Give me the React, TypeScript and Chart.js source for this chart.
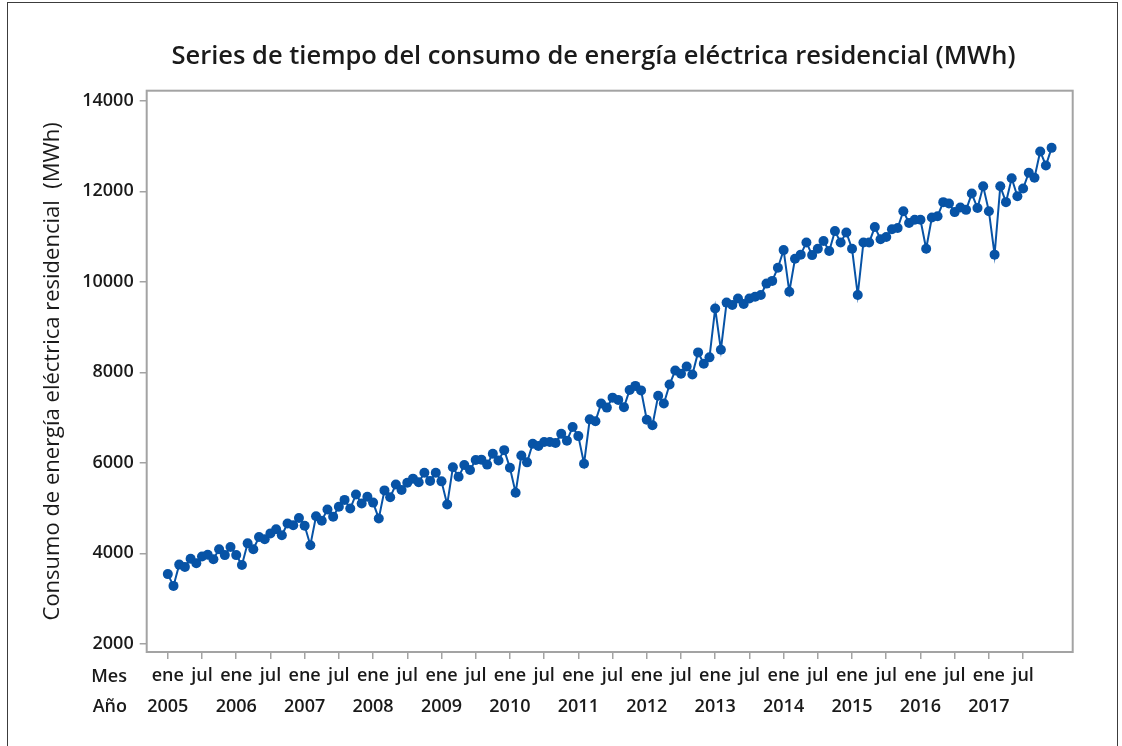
import React, { useEffect, useRef } from 'react';
import { Chart, registerables } from 'chart.js';

Chart.register(...registerables);

// Monthly residential electricity consumption (MWh), Jan..Dec for each year
const v2005 = [3540, 3280, 3750, 3700, 3880, 3780, 3930, 3970, 3870, 4090, 3960, 4140];
const v2006 = [3960, 3740, 4220, 4090, 4360, 4310, 4440, 4530, 4400, 4660, 4620, 4780];
const v2007 = [4610, 4180, 4820, 4720, 4970, 4810, 5030, 5180, 4990, 5300, 5100, 5250];
const v2008 = [5120, 4770, 5390, 5240, 5520, 5400, 5560, 5650, 5570, 5780, 5600, 5780];
const v2009 = [5590, 5080, 5900, 5690, 5950, 5840, 6060, 6070, 5960, 6200, 6050, 6280];
const v2010 = [5890, 5340, 6160, 6010, 6420, 6370, 6460, 6460, 6440, 6640, 6490, 6790];
const v2011 = [6590, 5980, 6960, 6920, 7310, 7220, 7440, 7390, 7230, 7610, 7700, 7600];
const v2012 = [6950, 6830, 7480, 7310, 7730, 8040, 7970, 8130, 7950, 8440, 8190, 8330];
const v2013 = [9410, 8500, 9540, 9490, 9630, 9510, 9630, 9670, 9710, 9960, 10020, 10310];
const v2014 = [10700, 9780, 10510, 10600, 10870, 10590, 10730, 10900, 10680, 11120, 10870, 11090];
const v2015 = [10730, 9710, 10870, 10870, 11210, 10940, 10990, 11160, 11190, 11560, 11300, 11370];
const v2016 = [11370, 10730, 11420, 11450, 11760, 11730, 11540, 11640, 11590, 11950, 11630, 12110];
const v2017 = [11560, 10600, 12110, 11760, 12290, 11890, 12060, 12410, 12300, 12880, 12570, 12960];

const years = ['2005', '2006', '2007', '2008', '2009', '2010', '2011', '2012', '2013', '2014', '2015', '2016', '2017'];
const monthTickLabels = ['ene', 'jul'];
const rowLabels = ['Mes', 'Año'];
const yTickValues = [2000, 4000, 6000, 8000, 10000, 12000, 14000];

const chartTitle = 'Series de tiempo del consumo de energía eléctrica residencial (MWh)';
const yAxisTitle = 'Consumo de energía eléctrica residencial  (MWh)';

const values = [
  ...v2005, ...v2006, ...v2007, ...v2008, ...v2009, ...v2010, ...v2011,
  ...v2012, ...v2013, ...v2014, ...v2015, ...v2016, ...v2017,
];

const BLUE = '#0753A6';
const GRAY = '#A3A3A3';
const TEXT = '#1A1A1A';
const FONT = "'Open Sans', 'Noto Sans', sans-serif";

export default function App() {
  const ref = useRef<HTMLCanvasElement>(null);

  useEffect(() => {
    const canvas = ref.current;
    if (!canvas) return;
    const points = values.map((v, i) => ({ x: i, y: v }));
    const tickPositions: number[] = [];
    for (let i = 0; i < values.length; i += 6) tickPositions.push(i);

    const framePlugin = {
      id: 'frame',
      beforeDatasetsDraw(chart: any) {
        const { ctx, chartArea } = chart;
        ctx.save();
        ctx.strokeStyle = GRAY;
        ctx.lineWidth = 2;
        ctx.strokeRect(chartArea.left, chartArea.top, chartArea.right - chartArea.left, chartArea.bottom - chartArea.top);
        ctx.restore();
      },
      afterDraw(chart: any) {
        const { ctx } = chart;
        ctx.save();
        // outer figure border
        ctx.strokeStyle = '#3C3C3C';
        ctx.lineWidth = 1;
        ctx.strokeRect(7.5, 2.5, 1110, 760);
        // chart title
        ctx.fillStyle = TEXT;
        ctx.textAlign = 'center';
        ctx.textBaseline = 'middle';
        ctx.font = `600 25.5px ${FONT}`;
        ctx.fillText(chartTitle, 593.5, 57);
        // row labels for the x axis
        ctx.font = `600 18px ${FONT}`;
        ctx.textAlign = 'right';
        ctx.fillText(rowLabels[0], 127, 676.7);
        ctx.fillText(rowLabels[1], 127, 707.3);
        ctx.restore();
      },
    };

    const chart = new Chart(canvas, {
      type: 'line',
      data: {
        datasets: [
          {
            data: points,
            borderColor: BLUE,
            backgroundColor: BLUE,
            pointBackgroundColor: BLUE,
            pointBorderColor: BLUE,
            pointRadius: 5,
            pointBorderWidth: 0,
            borderWidth: 2,
            tension: 0,
          },
        ],
      },
      options: {
        animation: false,
        responsive: false,
        maintainAspectRatio: false,
        layout: { padding: { left: 0, right: 49.3, top: 90.7, bottom: 0 } },
        plugins: {
          legend: { display: false },
          tooltip: { enabled: false },
          title: { display: false },
        },
        scales: {
          x: {
            type: 'linear',
            min: -3.7,
            max: 158.7,
            afterBuildTicks: (scale: any) => {
              scale.ticks = tickPositions.map((v) => ({ value: v }));
            },
            afterFit: (scale: any) => {
              scale.height = 94;
            },
            ticks: {
              autoSkip: false,
              maxRotation: 0,
              minRotation: 0,
              padding: 2,
              color: TEXT,
              font: { family: FONT, size: 18, weight: '600', lineHeight: 1.7 },
              callback: (value: any) => {
                const idx = Number(value);
                const m = idx % 12 === 0 ? monthTickLabels[0] : monthTickLabels[1];
                const y = idx % 12 === 0 ? years[idx / 12] : '';
                return [m, y];
              },
            },
            grid: { drawOnChartArea: false, drawTicks: true, tickLength: 7, color: GRAY, lineWidth: 1.5 },
            border: { display: false },
          },
          y: {
            type: 'linear',
            min: 1819,
            max: 14223,
            afterBuildTicks: (scale: any) => {
              scale.ticks = yTickValues.map((v) => ({ value: v }));
            },
            afterFit: (scale: any) => {
              scale.width = 146.7;
            },
            ticks: {
              padding: 6,
              color: TEXT,
              font: { family: FONT, size: 18, weight: '600' },
              callback: (value: any) => String(value),
            },
            grid: { drawOnChartArea: false, drawTicks: true, tickLength: 7, color: GRAY, lineWidth: 1.5 },
            border: { display: false },
            title: {
              display: true,
              text: yAxisTitle,
              color: TEXT,
              font: { family: FONT, size: 22, weight: '400', lineHeight: 1.2 },
              padding: { top: 39.8, bottom: 0 },
            },
          },
        },
      },
      plugins: [framePlugin],
    });

    return () => chart.destroy();
  }, []);

  return (
    <div style={{ position: 'fixed', left: 0, top: 0, width: 1122, height: 746, background: '#ffffff' }}>
      <canvas ref={ref} width={1122} height={746} style={{ width: 1122, height: 746, display: 'block' }} />
    </div>
  );
}
